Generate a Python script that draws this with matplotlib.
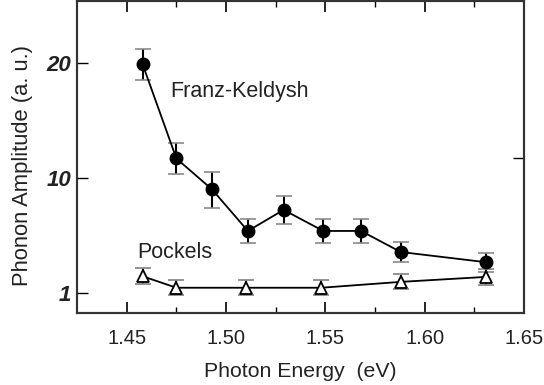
import numpy as np
import matplotlib.pyplot as plt

# Franz-Keldysh and Pockels phonon amplitudes vs photon energy
fk_energy = [1.458, 1.475, 1.493, 1.511, 1.529, 1.549, 1.568, 1.588, 1.631]
fk_amp = [19.9, 11.7, 9.1, 5.85, 7.5, 5.85, 5.85, 4.2, 3.4]
fk_err = [1.35, 1.33, 1.46, 0.93, 1.08, 0.93, 0.93, 0.82, 0.76]

pk_energy = [1.458, 1.475, 1.510, 1.548, 1.588, 1.631]
pk_amp = [2.3, 1.4, 1.4, 1.4, 1.86, 2.25]
pk_err = [0.61, 0.59, 0.59, 0.59, 0.59, 0.61]

x_ticks = [1.45, 1.50, 1.55, 1.60, 1.65]
x_labels = ["1.45", "1.50", "1.55", "1.60", "1.65"]
y_ticks = [1, 10, 20]
y_labels = ["1", "10", "20"]


# broken vertical scale: 1..10 and 10..20 take the same height
def fwd(y):
    y = np.asarray(y, dtype=float)
    return np.where(y <= 10, (y - 1) / 9.0, 1 + (y - 10) / 10.0)


def inv(f):
    f = np.asarray(f, dtype=float)
    return np.where(f <= 1, 1 + 9.0 * f, 10 + 10.0 * (f - 1))


plt.rcParams["font.family"] = ["Liberation Sans", "DejaVu Sans"]

fig = plt.figure(figsize=(5.44, 3.85), dpi=100)
ax = fig.add_axes([0.141, 0.186, 0.822, 0.811])
ax.set_yscale("function", functions=(fwd, inv))

line_kw = dict(color="black", lw=1.3, elinewidth=1.5, ecolor="black", capsize=6, capthick=1.2, zorder=3)
_, caps, _ = ax.errorbar(fk_energy, fk_amp, yerr=fk_err, fmt="-o", ms=9, mfc="black", mec="black", **line_kw)
for c in caps:
    c.set_markeredgecolor("#8a8a8a")
_, caps, _ = ax.errorbar(pk_energy, pk_amp, yerr=pk_err, fmt="-^", ms=9, mfc="white", mec="black", mew=1.3, **line_kw)
for c in caps:
    c.set_markeredgecolor("#8a8a8a")

ax.text(1.472, 17.5, "Franz-Keldysh", fontsize=15.5, color="#222222", va="center")
ax.text(1.4555, 4.2, "Pockels", fontsize=15.5, color="#222222", va="center")

ax.set_xlim(1.4248, 1.65)
ax.set_ylim(-0.61, 25.4)
ax.set_xticks(x_ticks, x_labels, fontsize=14.5, color="#222222")
ax.set_yticks(y_ticks, y_labels, fontsize=16, fontweight="bold", fontstyle="italic", color="#222222")
ax.set_xticks(np.arange(1.475, 1.65, 0.05), minor=True)
ax.tick_params(axis="x", which="major", direction="in", length=8, width=1.2, top=True, pad=11)
ax.tick_params(axis="x", which="minor", direction="in", length=4, width=1.0, top=True)
ax.tick_params(axis="y", which="major", direction="in", length=8, width=1.0, pad=4)

# single unlabeled tick on the right spine
ax_r = ax.twinx()
ax_r.set_yscale("function", functions=(fwd, inv))
ax_r.set_ylim(ax.get_ylim())
ax_r.set_yticks([11.7], [""])
ax_r.tick_params(axis="y", direction="in", length=8, width=1.0)

for a in (ax, ax_r):
    for s in a.spines.values():
        s.set_color("#333333")
        s.set_linewidth(1.5)

ax.set_xlabel("Photon Energy  (eV)", fontsize=15.3, color="#222222", labelpad=10)
ax.set_ylabel("Phonon Amplitude (a. u.)", fontsize=15.8, color="#222222")
ax.yaxis.set_label_coords(-0.098, 0.475)

fig.savefig("out.png", dpi=100)
